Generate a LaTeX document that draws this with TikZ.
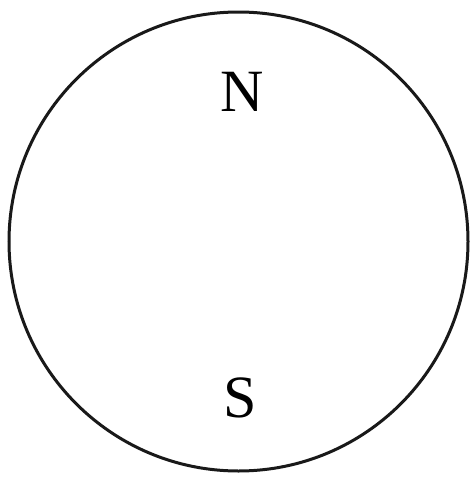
\documentclass[tikz,border=0pt]{standalone}
\usepackage{fontspec}
\setmainfont{Liberation Serif}
\begin{document}
\begin{tikzpicture}[x=1pt,y=-1pt,
  pole/.style={font=\fontsize{60}{60}\selectfont, inner sep=0pt, anchor=center},
  ring/.style={draw=black!90, line width=3pt}]
\useasboundingbox (0,0) rectangle (472,479);
\node[ring, circle, minimum size=459pt, inner sep=0pt] (c) at (238.5,241.5) {};
\node[pole] (n) at (242,92) {N};
\node[pole] (s) at (240,398) {S};
\end{tikzpicture}
\end{document}
